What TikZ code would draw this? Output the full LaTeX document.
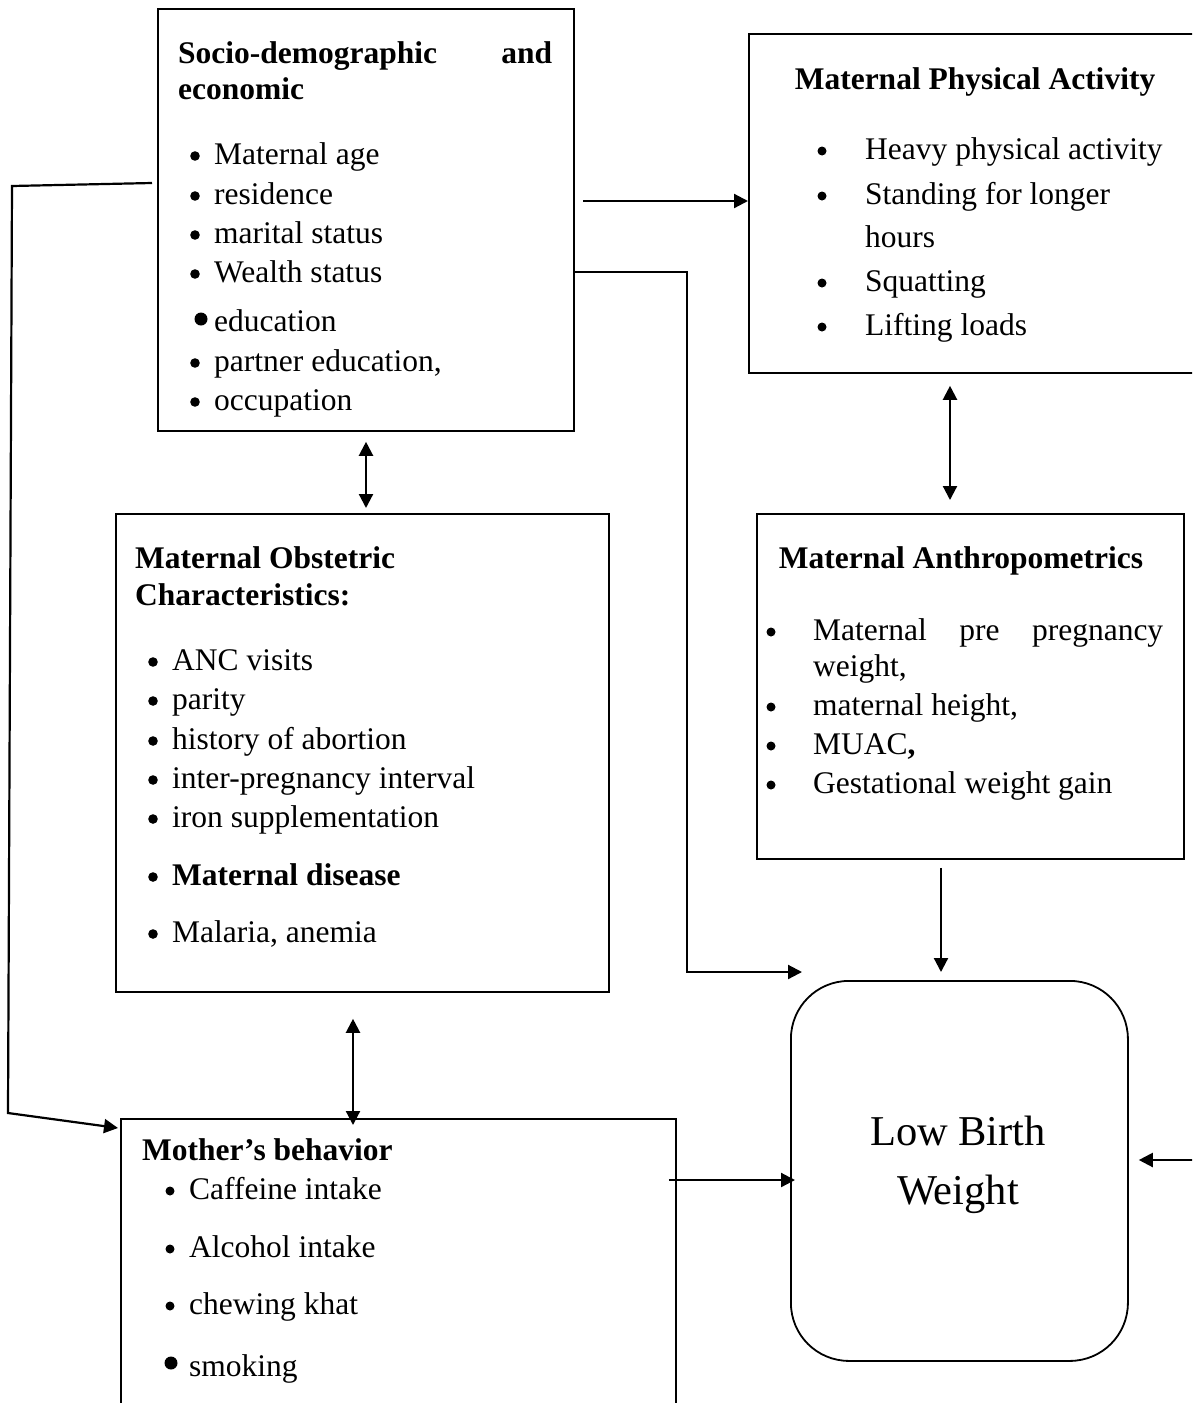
\documentclass[tikz,border=0pt]{standalone}
\usepackage{fontspec}
\setmainfont{Liberation Serif}
\usetikzlibrary{arrows.meta}

\tikzset{
  box/.style={draw, line width=1.8pt, anchor=north west, inner sep=0pt},
  item/.style={anchor=west, inner sep=0pt, yshift=-4pt, font=\fontsize{31.5}{38}\selectfont, text height=22pt, text depth=6.3pt},
  head/.style={item, font=\fontsize{31.5}{38}\selectfont\bfseries},
  link/.style={line width=2.2pt, -{Triangle[length=14pt,width=14pt]}},
  twoway/.style={line width=2.2pt, {Triangle[length=14pt,width=14pt]}-{Triangle[length=14pt,width=14pt]}},
}
\newcommand{\dotat}[3]{\fill[yshift=-3pt] (#1,#2) circle (#3pt);}

\begin{document}
\begin{tikzpicture}[x=1pt, y=-1pt]
  \useasboundingbox (0,0) rectangle (1192,1403);
  \clip (0,0) rectangle (1192,1403);

  \node[box, minimum width=416pt, minimum height=422pt] (socio) at (157,8) {};
  \node[box, minimum width=460pt, minimum height=339pt] (phys) at (748,33) {};
  \node[box, minimum width=493pt, minimum height=478pt] (obst) at (115,513) {};
  \node[box, minimum width=427pt, minimum height=345pt] (anthro) at (756,513) {};
  \node[box, minimum width=555pt, minimum height=320pt] (behav) at (120,1118) {};
  \node[box, rounded corners=58pt, minimum width=337pt, minimum height=380pt] (lbw) at (790,980) {};

  % socio-demographic
  \node[head] (socio-h1) at (178,52) {\makebox[374pt][s]{Socio-demographic\hfill and}};
  \node[head] (socio-h2) at (178,88) {economic};
  \foreach \y/\t [count=\i] in {153/Maternal age, 193/residence, 232/marital status, 271/Wealth status,
      320/education, 360/{partner education,}, 399/occupation}
    \node[item] (socio-\i) at (214,\y) {\t};
  \foreach \y in {153,193,232,271,360,399} {\dotat{195}{\y}{4.8}}
  \dotat{201}{316}{6.5}

  % physical activity
  \node[head, anchor=center] (phys-h) at (975,78) {Maternal Physical Activity};
  \foreach \y/\t [count=\i] in {148/Heavy physical activity, 193/Standing for longer, 236/hours,
      280/Squatting, 324/Lifting loads}
    \node[item] (phys-\i) at (865,\y) {\t};
  \foreach \y in {148,193,280,324} {\dotat{822}{\y}{4.5}}

  % obstetric
  \node[head] (obst-h1) at (135,557) {Maternal Obstetric};
  \node[head] (obst-h2) at (135,594) {Characteristics:};
  \foreach \y/\t [count=\i] in {659/ANC visits, 698/parity, 738/history of abortion,
      777/inter-pregnancy interval, 816/iron supplementation, 874/\textbf{Maternal disease},
      931/{Malaria, anemia}}
    \node[item] (obst-\i) at (172,\y) {\t};
  \foreach \y in {659,698,738,777,816,874,931} {\dotat{153}{\y}{4.8}}

  % anthropometrics
  \node[head, anchor=center] (anthro-h) at (961,557) {Maternal Anthropometrics};
  \foreach \y/\t [count=\i] in {629/\makebox[350pt][s]{Maternal\hfill pre\hfill pregnancy}, 665/{weight,},
      704/{maternal height,}, 743/MUAC\textbf{,}, 782/Gestational weight gain}
    \node[item] (anthro-\i) at (813,\y) {\t};
  \foreach \y in {629,704,743,782} {\dotat{771}{\y}{4.5}}

  % behavior
  \node[head] (behav-h) at (142,1149) {Mother’s behavior};
  \foreach \y/\t [count=\i] in {1188/Caffeine intake, 1246/Alcohol intake, 1303/chewing khat, 1365/smoking}
    \node[item] (behav-\i) at (189,\y) {\t};
  \foreach \y in {1188,1246,1303} {\dotat{170}{\y}{4.5}}
  \dotat{171}{1360}{6.5}

  \node[align=center, font=\fontsize{42.5}{59}\selectfont] (lbw-t) at (958,1165) {Low Birth\\Weight};

  % connectors
  \coordinate (sa) at (583,201);
  \coordinate (sb) at (687,272);
  \coordinate (sc) at (687,972);
  \coordinate (sd) at (802,972);
  \coordinate (la) at (152,183);
  \coordinate (lb) at (12,186);
  \coordinate (lc) at (8,1113);
  \coordinate (ld) at (118,1128);
  \coordinate (ra) at (1200,1160);
  \coordinate (ca) at (366,0);
  \coordinate (cb) at (950,0);
  \coordinate (cc) at (353,0);
  \coordinate (cd) at (941,0);
  \coordinate (ce) at (0,1180);

  \draw[link] (sa) -- (sa -| phys.west);
  \draw[link] (socio.east |- sb) -- (sb) -- (sc) -- (sd);
  \draw[link] (la) -- (lb) -- (lc) -- (ld);
  \draw[twoway, shorten <=10pt, shorten >=5pt] (socio.south -| ca) -- (obst.north -| ca);
  \draw[twoway, shorten <=12pt, shorten >=13pt] (phys.south -| cb) -- (anthro.north -| cb);
  \draw[twoway, shorten <=26pt, shorten >=-7pt] (obst.south -| cc) -- (behav.north -| cc);
  \draw[link, shorten <=8pt, shorten >=8pt] (anthro.south -| cd) -- (lbw.north -| cd);
  \draw[link, shorten <=-8pt, shorten >=-5pt] (behav.east |- ce) -- (lbw.west |- ce);
  \draw[link, shorten >=10pt] (ra) -- (lbw.east |- ra);
\end{tikzpicture}
\end{document}
